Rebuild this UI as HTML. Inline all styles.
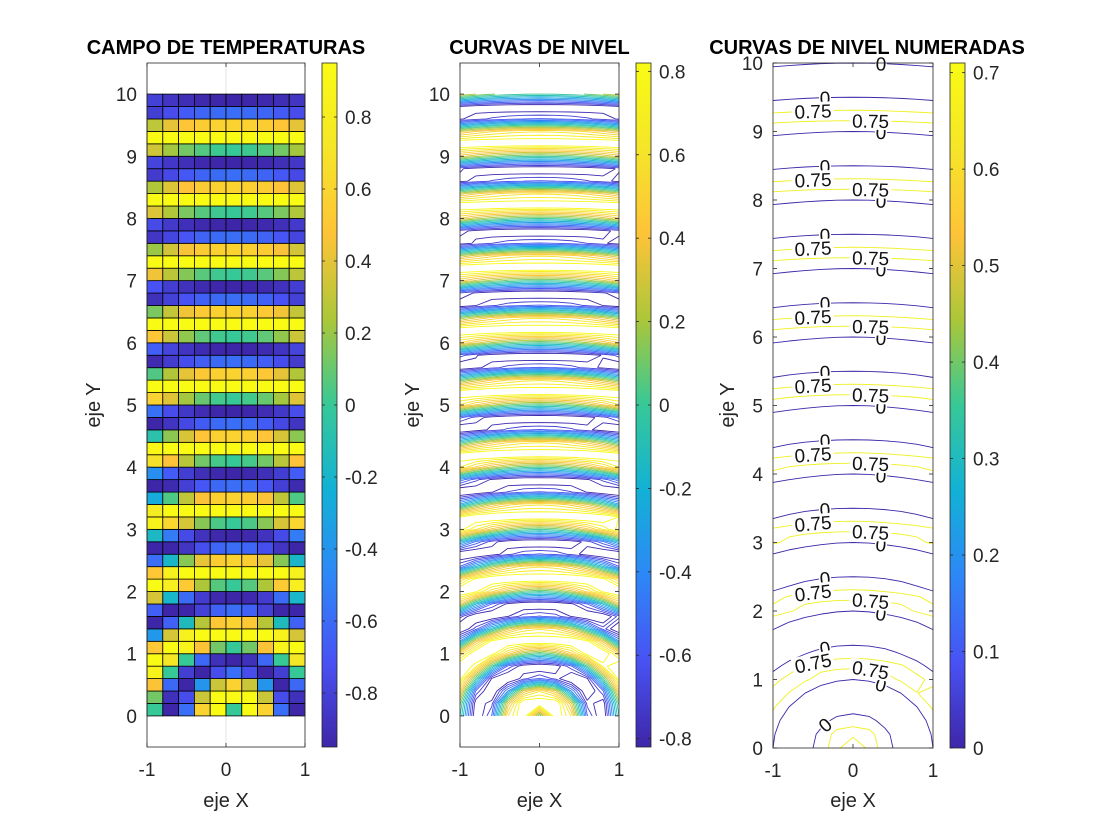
<!DOCTYPE html>
<html><head><meta charset="utf-8">
<style>
html,body{margin:0;padding:0;background:#fff;}
svg{display:block;font-family:"Liberation Sans",sans-serif;}
</style></head>
<body>
<svg id="fig" width="1120" height="840" viewBox="0 0 1120 840"></svg>
<script>
// ---- data ----
const xs = [-1,-0.8,-0.6,-0.4,-0.2,0,0.2,0.4,0.6,0.8,1];
const ys = [0,0.2,0.4,0.6,0.8,1,1.2,1.4,1.6,1.8,2,2.2,2.4,2.6,2.8,3,3.2,3.4,3.6,3.8,4,4.2,4.4,4.6,4.8,5,5.2,5.4,5.6,5.8,6,6.2,6.4,6.6,6.8,7,7.2,7.4,7.6,7.8,8,8.2,8.4,8.6,8.8,9,9.2,9.4,9.6,9.8,10];
const zFreq = [2];            // temperature field: sin(pi*freq*r)
const contourLevels = [-0.8,-0.7,-0.6,-0.5,-0.4,-0.3,-0.2,-0.1,0,0.1,0.2,0.3,0.4,0.5,0.6,0.7,0.8];
const labeledLevels = [0,0.75];
const cb1Ticks = [-0.8,-0.6,-0.4,-0.2,0,0.2,0.4,0.6,0.8];
const cb2Ticks = [-0.8,-0.6,-0.4,-0.2,0,0.2,0.4,0.6,0.8];
const cb3Ticks = [0,0.1,0.2,0.3,0.4,0.5,0.6,0.7];
const xTicks = [-1,0,1];
const yTicks = [0,1,2,3,4,5,6,7,8,9,10];

const Z = ys.map(y => xs.map(x => Math.sin(Math.PI*zFreq[0]*Math.sqrt(x*x+y*y))));

// ---- helpers ----
const NS = "http://www.w3.org/2000/svg";
const svg = document.getElementById('fig');
function mk(tag, attrs, parent){
  const e = document.createElementNS(NS, tag);
  for (const k in attrs) e.setAttribute(k, attrs[k]);
  (parent||svg).appendChild(e);
  return e;
}
const parulaStops = ['#3e26a8','#4852f4','#2d87f7','#12b1d6','#37c897','#abc739','#fec338','#f5e528','#f9fb14'];
function hex(h){return [parseInt(h.substr(1,2),16),parseInt(h.substr(3,2),16),parseInt(h.substr(5,2),16)];}
function parula(t){
  t = Math.max(0, Math.min(1, t));
  const n = parulaStops.length-1, p = t*n, i = Math.min(n-1, Math.floor(p)), f = p-i;
  const a = hex(parulaStops[i]), b = hex(parulaStops[i+1]);
  return 'rgb(' + a.map((v,k)=>Math.round(v+(b[k]-v)*f)).join(',') + ')';
}
function fmt(v){ return (Math.round(v*10)/10).toString(); }

function contourSegs(level){
  const segs = [];
  for (let j=0;j<ys.length-1;j++) for (let i=0;i<xs.length-1;i++){
    const c = [[xs[i],ys[j],Z[j][i]],[xs[i+1],ys[j],Z[j][i+1]],[xs[i+1],ys[j+1],Z[j+1][i+1]],[xs[i],ys[j+1],Z[j+1][i]]];
    const pts = [];
    for (let k=0;k<4;k++){
      const a=c[k], b=c[(k+1)%4];
      if ((a[2]-level)*(b[2]-level) < 0){
        const t=(level-a[2])/(b[2]-a[2]);
        pts.push([a[0]+(b[0]-a[0])*t, a[1]+(b[1]-a[1])*t]);
      }
    }
    if (pts.length===2) segs.push(pts);
    else if (pts.length===4){ segs.push([pts[0],pts[1]]); segs.push([pts[2],pts[3]]); }
  }
  return segs;
}

const panels = [
  {name:'temperature', x0:147, x1:305, top:63, bot:747, ymin:-0.5, ymax:10.5, cbx:322, cbmin:-0.95, cbmax:0.95, cbTicks:cb1Ticks, title:'CAMPO DE TEMPERATURAS', ylabx:93},
  {name:'contour', x0:460, x1:619, top:63, bot:747, ymin:-0.5, ymax:10.5, cbx:636, cbmin:-0.82, cbmax:0.82, cbTicks:cb2Ticks, title:'CURVAS DE NIVEL', ylabx:412},
  {name:'labeled-contour', x0:773, x1:933, top:63, bot:748, ymin:0, ymax:10, cbx:950, cbmin:0, cbmax:0.71, cbTicks:cb3Ticks, title:'CURVAS DE NIVEL NUMERADAS', ylabx:727}
];

panels.forEach((P, pi) => {
  const sx = x => P.x0 + (x+1)/2*(P.x1-P.x0);
  const sy = y => P.bot - (y-P.ymin)/(P.ymax-P.ymin)*(P.bot-P.top);
  const g = mk('g', {});
  
  

  const bg = mk('rect', {x:P.x0, y:P.top, width:P.x1-P.x0, height:P.bot-P.top, fill:'#fff'}, g);
  
  

  if (pi===0){
    xTicks.forEach(t => {
      const gl = mk('line', {x1:sx(t), x2:sx(t), y1:P.top, y2:P.bot, stroke:'#e3e3e3', 'stroke-width':1}, g);
      
      
    });
    const cells = mk('g', {}, g);
    
    
    for (let j=0;j<ys.length-1;j++) for (let i=0;i<xs.length-1;i++){
      const v = Z[j][i];
      const r = mk('rect', {x:sx(xs[i]), y:sy(ys[j+1]), width:sx(xs[i+1])-sx(xs[i]), height:sy(ys[j])-sy(ys[j+1]),
        fill:parula((v-P.cbmin)/(P.cbmax-P.cbmin)), stroke:'#000', 'stroke-width':0.8}, cells);
      
      
    }
  } else {
    const levels = pi===1 ? contourLevels : labeledLevels;
    levels.forEach(L => {
      const segs = contourSegs(L);
      const d = segs.map(s => 'M'+sx(s[0][0]).toFixed(2)+','+sy(s[0][1]).toFixed(2)+'L'+sx(s[1][0]).toFixed(2)+','+sy(s[1][1]).toFixed(2)).join('');
      const col = pi===1 ? parula((L-P.cbmin)/(P.cbmax-P.cbmin)) : (L===0 ? '#3e26a8' : '#f0f020');
      const p = mk('path', {d:d, fill:'none', stroke:col, 'stroke-width':0.9}, g);
      
      
      if (pi===2){
        const spots = L===0 ? [[-0.35,-1],[0.35,1]] : [[-0.5,-1],[0.22,1]];
        spots.forEach(sp => {
          const tx = sp[0];
          segs.forEach(s => {
            const a=s[0], b=s[1];
            if ((a[0]-tx)*(b[0]-tx) > 0 || a[0]===b[0]) return;
            const t=(tx-a[0])/(b[0]-a[0]);
            const yy=a[1]+(b[1]-a[1])*t;
            const r0=Math.sqrt(tx*tx+yy*yy);
            const dz = Math.sin(Math.PI*zFreq[0]*Math.sqrt(tx*tx+(yy+0.01)*(yy+0.01))) - Math.sin(Math.PI*zFreq[0]*r0);
            if (Math.sign(dz)!==sp[1]) return;
            const px=sx(tx), py=sy(yy);
            let ang = Math.atan2(sy(b[1])-sy(a[1]), sx(b[0])-sx(a[0]))*180/Math.PI;
            if (ang>90) ang-=180; if (ang<-90) ang+=180;
            const txt = L===0 ? '0' : '0.75';
            const w = txt.length*10+2;
            const lg = mk('g', {transform:'translate('+px.toFixed(1)+','+py.toFixed(1)+') rotate('+ang.toFixed(1)+')'}, g);
            
            
            mk('rect', {x:-w/2, y:-9, width:w, height:18, fill:'#fff'}, lg);
            const te = mk('text', {x:0, y:7, 'text-anchor':'middle', 'font-size':19, fill:'#111'}, lg);
            te.textContent = txt;
          });
        });
      }
    });
  }

  const box = mk('rect', {x:P.x0, y:P.top, width:P.x1-P.x0, height:P.bot-P.top, fill:'none', stroke:'#262626', 'stroke-width':0.8}, g);
  
  

  xTicks.forEach(t => {
    const x = sx(t);
    mk('line', {x1:x, x2:x, y1:P.bot, y2:P.bot-4, stroke:'#262626', 'stroke-width':0.8}, g);
    mk('line', {x1:x, x2:x, y1:P.top, y2:P.top+4, stroke:'#262626', 'stroke-width':0.8}, g);
    const tl = mk('text', {x:x, y:P.bot+29, 'text-anchor':'middle', 'font-size':19, fill:'#262626'}, g);
    
    
    tl.textContent = t.toString();
  });
  yTicks.forEach(t => {
    const y = sy(t);
    mk('line', {x1:P.x0, x2:P.x0+4, y1:y, y2:y, stroke:'#262626', 'stroke-width':0.8}, g);
    mk('line', {x1:P.x1, x2:P.x1-4, y1:y, y2:y, stroke:'#262626', 'stroke-width':0.8}, g);
    const tl = mk('text', {x:P.x0-10, y:y+7, 'text-anchor':'end', 'font-size':19, fill:'#262626'}, g);
    
    
    tl.textContent = t.toString();
  });

  const ti = mk('text', {x:(P.x0+P.x1)/2 + (pi===2?14:0), y:54, 'text-anchor':'middle', 'font-size':20, 'font-weight':'bold', fill:'#000'}, g);
  
  
  ti.textContent = P.title;
  const xl = mk('text', {x:(P.x0+P.x1)/2, y:807, 'text-anchor':'middle', 'font-size':20, fill:'#262626'}, g);
  
  
  xl.textContent = 'eje X';
  const yl = mk('text', {x:0, y:0, 'text-anchor':'middle', 'font-size':20, fill:'#262626', transform:'translate('+(P.ylabx+7)+',405) rotate(-90)'}, g);
  
  
  yl.textContent = 'eje Y';

  const cb = mk('g', {}, g);
  
  
  const gid = 'grad'+pi;
  const defs = mk('defs', {}, cb);
  const lg = mk('linearGradient', {id:gid, x1:0, y1:1, x2:0, y2:0}, defs);
  for (let k=0;k<=32;k++) mk('stop', {offset:(k/32), 'stop-color':parula(k/32)}, lg);
  const cw = 15;
  mk('rect', {x:P.cbx, y:P.top, width:cw, height:P.bot-P.top, fill:'url(#'+gid+')', stroke:'#262626', 'stroke-width':0.8}, cb);
  const cy = v => P.bot - (v-P.cbmin)/(P.cbmax-P.cbmin)*(P.bot-P.top);
  P.cbTicks.forEach(v => {
    const y = cy(v);
    mk('line', {x1:P.cbx, x2:P.cbx+3, y1:y, y2:y, stroke:'#262626', 'stroke-width':0.8}, cb);
    mk('line', {x1:P.cbx+cw, x2:P.cbx+cw-3, y1:y, y2:y, stroke:'#262626', 'stroke-width':0.8}, cb);
    const tl = mk('text', {x:P.cbx+cw+8, y:y+7, 'font-size':19, fill:'#262626'}, cb);
    
    
    tl.textContent = fmt(v);
  });
});
</script>
</body></html>
